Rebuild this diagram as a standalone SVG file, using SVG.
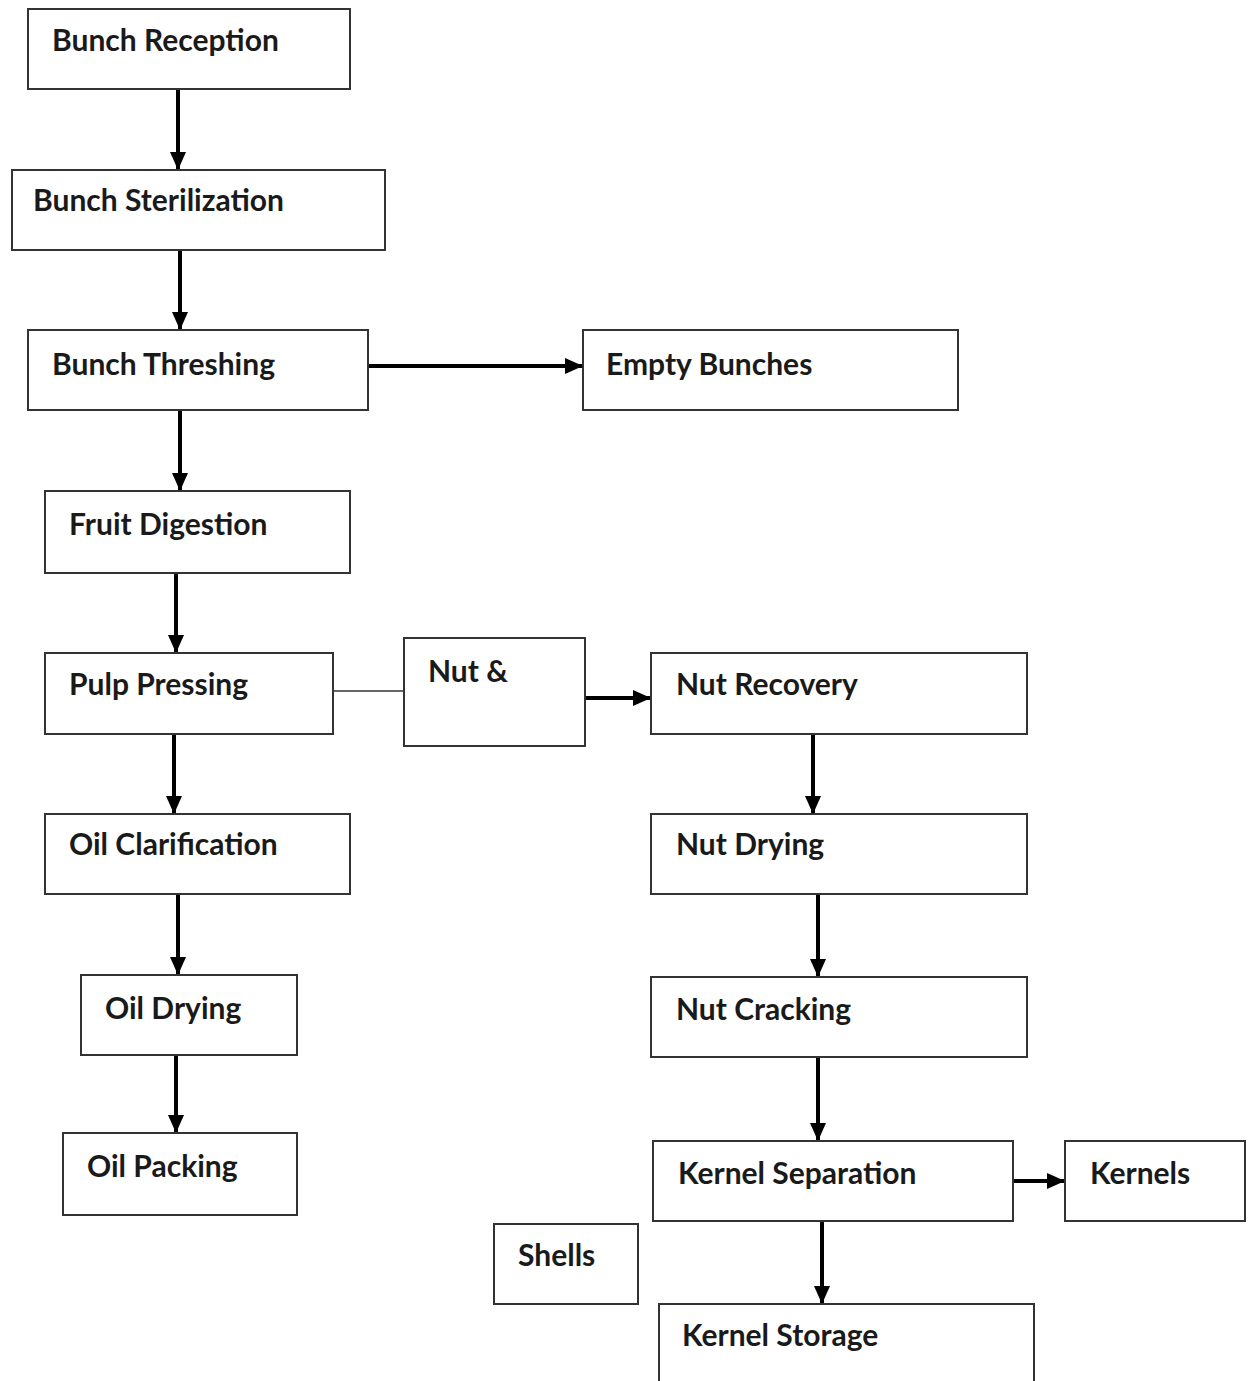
<svg xmlns="http://www.w3.org/2000/svg" width="1248" height="1381" viewBox="0 0 1248 1381">
<style>
.box{fill:#fff;stroke:#333;stroke-width:2}
.lbl{font-family:Lato,"Open Sans","Liberation Sans",sans-serif;font-weight:bold;font-size:30px;fill:#1a1a1a}
.arr{stroke:#000;stroke-width:4;fill:none;marker-end:url(#ah)}
.thin{stroke:#333;stroke-width:1.5;fill:none}
</style>
<defs>
<marker id="ah" markerUnits="userSpaceOnUse" markerWidth="20" markerHeight="18" refX="18" refY="9" orient="auto">
<path d="M0,1 L18,9 L0,17 Z" fill="#000"/>
</marker>
</defs>
<rect width="1248" height="1381" fill="#fff"/>
<g id="connectors">
<line class="arr" x1="178" y1="89" x2="178" y2="170"/>
<line class="arr" x1="180" y1="250" x2="180" y2="330"/>
<line class="arr" x1="368" y1="366" x2="583" y2="366"/>
<line class="arr" x1="180" y1="410" x2="180" y2="491"/>
<line class="arr" x1="176" y1="573" x2="176" y2="653"/>
<line class="thin" x1="333" y1="691" x2="404" y2="691"/>
<line class="arr" x1="583" y1="698" x2="651" y2="698"/>
<line class="arr" x1="174" y1="734" x2="174" y2="814"/>
<line class="arr" x1="813" y1="734" x2="813" y2="814"/>
<line class="arr" x1="178" y1="894" x2="178" y2="975"/>
<line class="arr" x1="818" y1="894" x2="818" y2="977"/>
<line class="arr" x1="176" y1="1055" x2="176" y2="1133"/>
<line class="arr" x1="818" y1="1057" x2="818" y2="1141"/>
<line class="arr" x1="1013" y1="1181" x2="1065" y2="1181"/>
<line class="arr" x1="822" y1="1221" x2="822" y2="1304"/>
</g>
<g id="bunch-reception"><rect class="box" x="28" y="9" width="322" height="80"/><text class="lbl" x="52" y="51">Bunch Reception</text></g>
<g id="bunch-sterilization"><rect class="box" x="12" y="170" width="373" height="80"/><text class="lbl" x="33" y="211">Bunch Sterilization</text></g>
<g id="bunch-threshing"><rect class="box" x="28" y="330" width="340" height="80"/><text class="lbl" x="52" y="375">Bunch Threshing</text></g>
<g id="empty-bunches"><rect class="box" x="583" y="330" width="375" height="80"/><text class="lbl" x="606" y="375">Empty Bunches</text></g>
<g id="fruit-digestion"><rect class="box" x="45" y="491" width="305" height="82"/><text class="lbl" x="69" y="535">Fruit Digestion</text></g>
<g id="pulp-pressing"><rect class="box" x="45" y="653" width="288" height="81"/><text class="lbl" x="69" y="695">Pulp Pressing</text></g>
<g id="nut-and"><rect class="box" x="404" y="638" width="181" height="108"/><text class="lbl" x="428" y="682">Nut &amp;</text></g>
<g id="nut-recovery"><rect class="box" x="651" y="653" width="376" height="81"/><text class="lbl" x="676" y="695">Nut Recovery</text></g>
<g id="oil-clarification"><rect class="box" x="45" y="814" width="305" height="80"/><text class="lbl" x="69" y="855">Oil Clarification</text></g>
<g id="nut-drying"><rect class="box" x="651" y="814" width="376" height="80"/><text class="lbl" x="676" y="855">Nut Drying</text></g>
<g id="oil-drying"><rect class="box" x="81" y="975" width="216" height="80"/><text class="lbl" x="105" y="1019">Oil Drying</text></g>
<g id="nut-cracking"><rect class="box" x="651" y="977" width="376" height="80"/><text class="lbl" x="676" y="1020">Nut Cracking</text></g>
<g id="oil-packing"><rect class="box" x="63" y="1133" width="234" height="82"/><text class="lbl" x="87" y="1177">Oil Packing</text></g>
<g id="kernel-separation"><rect class="box" x="653" y="1141" width="360" height="80"/><text class="lbl" x="678" y="1184">Kernel Separation</text></g>
<g id="kernels"><rect class="box" x="1065" y="1141" width="180" height="80"/><text class="lbl" x="1090" y="1184">Kernels</text></g>
<g id="shells"><rect class="box" x="494" y="1224" width="144" height="80"/><text class="lbl" x="518" y="1266">Shells</text></g>
<g id="kernel-storage"><rect class="box" x="659" y="1304" width="375" height="90"/><text class="lbl" x="682" y="1346">Kernel Storage</text></g>
</svg>
